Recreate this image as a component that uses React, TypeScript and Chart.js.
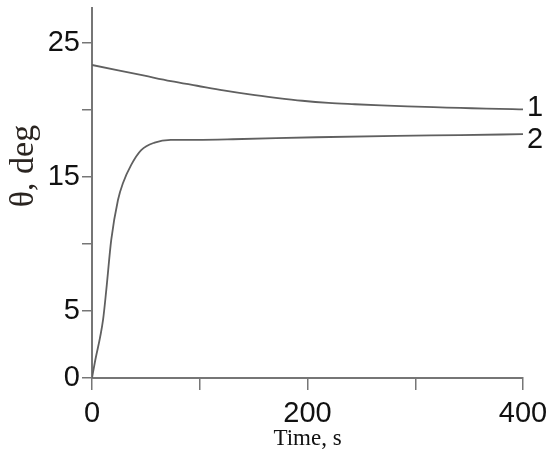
import React, { useEffect, useRef } from "react";
import { Chart, registerables } from "chart.js";

Chart.register(...registerables);

// Curve 1
const timeS1 = [0, 25, 50, 75, 100, 125, 150, 175, 200, 225, 250, 275, 300, 325, 350, 375, 400, 410];
const theta1 = [23.35, 22.95, 22.55, 22.15, 21.8, 21.45, 21.15, 20.9, 20.68, 20.52, 20.42, 20.33, 20.26, 20.2, 20.15, 20.09, 20.05, 20.04];

// Curve 2
const timeS2 = [0, 2.6, 10.5, 13.6, 18.3, 24.7, 29.5, 37.3, 46.8, 59.6, 75, 100, 134, 213.5, 289.5, 350, 410];
const theta2 = [0, 1.12, 4.33, 6.57, 10.3, 13.28, 14.55, 15.9, 17.0, 17.56, 17.76, 17.77, 17.81, 17.96, 18.06, 18.12, 18.19];

const curveLabels = ["1", "2"];
const xTickLabels = ["0", "", "200", "", "400"]; // ticks at 0,100,200,300,400
const yTickLabels = ["0", "5", "", "15", "", "25"]; // ticks at 0,5,...,25
const xTitle = "Time, s";
const yTitle = "θ, deg";

const SANS = "'Liberation Sans', Arial, sans-serif";
const SERIF = "'Liberation Serif', 'Times New Roman', serif";

export default function App() {
  const ref = useRef<HTMLCanvasElement | null>(null);

  useEffect(() => {
    if (!ref.current) return;
    const lineColor = "#606060";
    const axisColor = "#767676";

    const labelPlugin = {
      id: "extraText",
      afterDraw(chart: any) {
        const ctx = chart.ctx;
        const xs = chart.scales.x;
        const ys = chart.scales.y;
        ctx.save();
        ctx.fillStyle = "#2a2420";
        ctx.font = `34px ${SERIF}`;
        ctx.textAlign = "center";
        ctx.textBaseline = "middle";
        ctx.translate(24, 166);
        ctx.rotate(-Math.PI / 2);
        ctx.fillText(yTitle, 0, 0);
        ctx.restore();
        ctx.save();
        ctx.fillStyle = "#111";
        ctx.font = `29px ${SANS}`;
        ctx.textAlign = "left";
        ctx.textBaseline = "middle";
        const ends = [theta1[theta1.length - 1], theta2[theta2.length - 1]];
        const offs = [-1, 6];
        const xEnd = xs.getPixelForValue(timeS1[timeS1.length - 1]);
        curveLabels.forEach((t, i) => {
          ctx.fillText(t, xEnd + 4, ys.getPixelForValue(ends[i]) + offs[i]);
        });
        ctx.restore();
      },
    };

    const chart = new Chart(ref.current, {
      type: "line",
      data: {
        datasets: [
          {
            label: curveLabels[0],
            data: timeS1.map((x, i) => ({ x, y: theta1[i] })),
            borderColor: lineColor,
            borderWidth: 1.8,
            pointRadius: 0,
            cubicInterpolationMode: "monotone",
            fill: false,
          },
          {
            label: curveLabels[1],
            data: timeS2.map((x, i) => ({ x, y: theta2[i] })),
            borderColor: lineColor,
            borderWidth: 1.8,
            pointRadius: 0,
            cubicInterpolationMode: "monotone",
            fill: false,
          },
        ],
      },
      options: {
        animation: false,
        responsive: false,
        maintainAspectRatio: false,
        layout: { padding: { top: 8, right: 27, left: 0, bottom: 0 } },
        plugins: { legend: { display: false }, tooltip: { enabled: false } },
        scales: {
          x: {
            type: "linear",
            min: 0,
            max: 410,
            border: { display: true, color: axisColor, width: 2 },
            grid: { drawOnChartArea: false, drawTicks: true, tickLength: 12, color: axisColor, lineWidth: 1.5 },
            ticks: {
              stepSize: 100,
              includeBounds: false,
              maxRotation: 0,
              minRotation: 0,
              autoSkip: false,
              padding: 7,
              color: "#111",
              font: { family: SANS, size: 29 },
              callback: (_v: any, i: number) => xTickLabels[i] ?? "",
            },
            title: {
              display: true,
              text: xTitle,
              color: "#111",
              font: { family: SERIF, size: 23 },
              padding: { top: 0, bottom: 1 },
            },
            afterFit: (s: any) => {
              s.height = 76;
              s.paddingLeft = 0;
              s.paddingRight = 0;
              s.paddingTop = 0;
              s.paddingBottom = 0;
            },
          },
          y: {
            type: "linear",
            min: 0,
            max: 27.6,
            border: { display: true, color: axisColor, width: 2 },
            grid: { drawOnChartArea: false, drawTicks: true, tickLength: 10, color: axisColor, lineWidth: 1.5 },
            ticks: {
              stepSize: 5,
              includeBounds: false,
              autoSkip: false,
              padding: 2,
              color: "#111",
              font: { family: SANS, size: 29 },
              callback: (_v: any, i: number) => yTickLabels[i] ?? "",
            },
            afterFit: (s: any) => {
              s.width = 92;
              s.paddingLeft = 0;
              s.paddingRight = 0;
              s.paddingTop = 0;
              s.paddingBottom = 0;
            },
          },
        },
      },
      plugins: [labelPlugin],
    } as any);

    return () => chart.destroy();
  }, []);

  return (
    <div style={{ position: "absolute", left: 0, top: 0, width: 550, height: 454, background: "#fff" }}>
      <canvas ref={ref} width={550} height={454} style={{ display: "block" }} />
    </div>
  );
}
